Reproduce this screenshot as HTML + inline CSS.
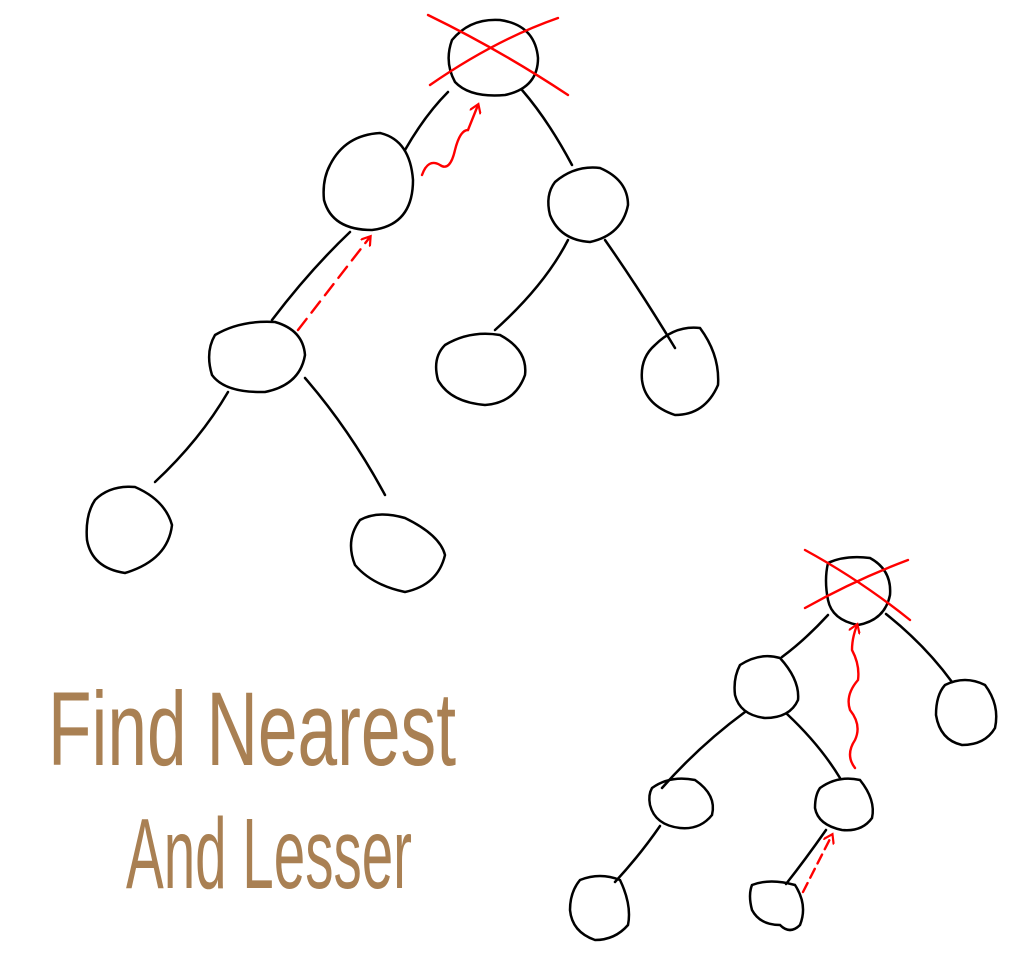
<!DOCTYPE html>
<html><head><meta charset="utf-8"><style>
html,body{margin:0;padding:0;background:#fff;}
svg{display:block}
</style></head><body>
<svg width="1024" height="960" viewBox="0 0 1024 960" xmlns="http://www.w3.org/2000/svg">
<defs>
<marker id="ah" markerWidth="12" markerHeight="12" refX="8" refY="6" orient="auto" markerUnits="userSpaceOnUse"><path d="M0,0 L9,6 L0,12" fill="none" stroke="#f00" stroke-width="2.2"/></marker>
</defs>
<g fill="none" stroke="#000" stroke-width="2.5" stroke-linecap="round">
<path d="M452,40 Q470,18 500,20 Q535,25 538,58 Q538,88 505,95 Q470,98 455,82 Q444,62 452,40Z"/>
<path d="M330,165 Q345,135 380,133 Q410,140 413,180 Q413,225 372,230 Q332,230 324,200 Q322,180 330,165Z"/>
<path d="M555,182 Q575,165 600,168 Q628,180 628,205 Q622,235 590,242 Q560,240 550,215 Q545,195 555,182Z"/>
<path d="M215,335 Q240,320 275,322 Q303,330 305,355 Q300,385 265,392 Q225,393 212,375 Q205,352 215,335Z"/>
<path d="M445,345 Q470,330 500,335 Q528,350 525,375 Q515,403 485,405 Q450,402 438,380 Q432,358 445,345Z"/>
<path d="M655,345 Q675,325 700,328 Q720,355 718,385 Q705,415 675,415 Q645,405 642,380 Q640,358 655,345Z"/>
<path d="M95,500 Q110,485 135,487 Q165,500 172,525 Q168,560 125,573 Q92,568 87,540 Q85,515 95,500Z"/>
<path d="M360,520 Q378,510 405,518 Q440,535 445,555 Q438,585 405,592 Q372,585 355,565 Q345,540 360,520Z"/>
<path d="M448,92 Q425,115 405,150"/>
<path d="M522,90 Q548,120 572,165"/>
<path d="M350,232 Q310,270 272,320"/>
<path d="M568,240 Q545,285 495,330"/>
<path d="M605,240 Q640,290 675,348"/>
<path d="M228,392 Q200,440 155,482"/>
<path d="M305,378 Q350,430 385,495"/>
<path d="M828,563 Q845,555 870,558 Q892,570 890,595 Q885,620 858,625 Q832,620 828,600 Q824,580 828,563Z"/>
<path d="M740,665 Q760,652 780,658 Q800,680 798,700 Q790,718 765,718 Q740,715 735,695 Q733,678 740,665Z"/>
<path d="M945,685 Q965,675 985,685 Q1000,705 995,728 Q985,745 962,745 Q940,740 936,715 Q936,695 945,685Z"/>
<path d="M652,788 Q670,775 695,780 Q717,795 712,815 Q700,830 680,828 Q655,825 650,805 Q648,795 652,788Z"/>
<path d="M820,788 Q838,775 860,780 Q876,800 872,818 Q862,832 842,830 Q818,825 815,808 Q815,795 820,788Z"/>
<path d="M580,880 Q600,872 620,880 Q632,905 628,925 Q615,940 595,940 Q572,932 570,910 Q570,892 580,880Z"/>
<path d="M752,885 Q770,878 795,885 Q808,905 800,925 Q790,935 780,925 Q760,925 752,910 Q748,895 752,885Z"/>
<path d="M828,615 Q805,640 782,657"/>
<path d="M886,614 Q925,645 952,682"/>
<path d="M745,712 Q700,745 662,788"/>
<path d="M787,714 Q820,745 840,778"/>
<path d="M660,826 Q640,855 615,882"/>
<path d="M826,830 Q805,860 786,884"/>
</g>
<g fill="none" stroke="#f00" stroke-width="2.4" stroke-linecap="round">
<path d="M428,15 Q500,50 568,95"/>
<path d="M430,85 Q495,40 558,18"/>
<path d="M422,175 Q428,158 440,165 Q450,172 455,150 Q460,130 468,130 Q472,120 478,105" marker-end="url(#ah)"/>
<path d="M298,330 L370,237" stroke-dasharray="14,8" marker-end="url(#ah)"/>
<path d="M805,550 Q860,580 910,620"/>
<path d="M805,608 Q855,580 908,560"/>
<path d="M855,768 Q845,755 855,740 Q862,725 850,710 Q845,695 858,680 Q860,665 852,650 Q852,638 857,625" marker-end="url(#ah)"/>
<path d="M803,892 L832,835" stroke-dasharray="10,6" marker-end="url(#ah)"/>
</g>
<g font-family="'Liberation Sans Narrow','Liberation Sans',sans-serif" fill="#9a6a35" fill-opacity="0.85">
<text x="48" y="765" font-size="105" textLength="408" lengthAdjust="spacingAndGlyphs">Find Nearest</text>
<text x="126" y="888" font-size="100" textLength="286" lengthAdjust="spacingAndGlyphs">And Lesser</text>
</g>
</svg>
</body></html>
